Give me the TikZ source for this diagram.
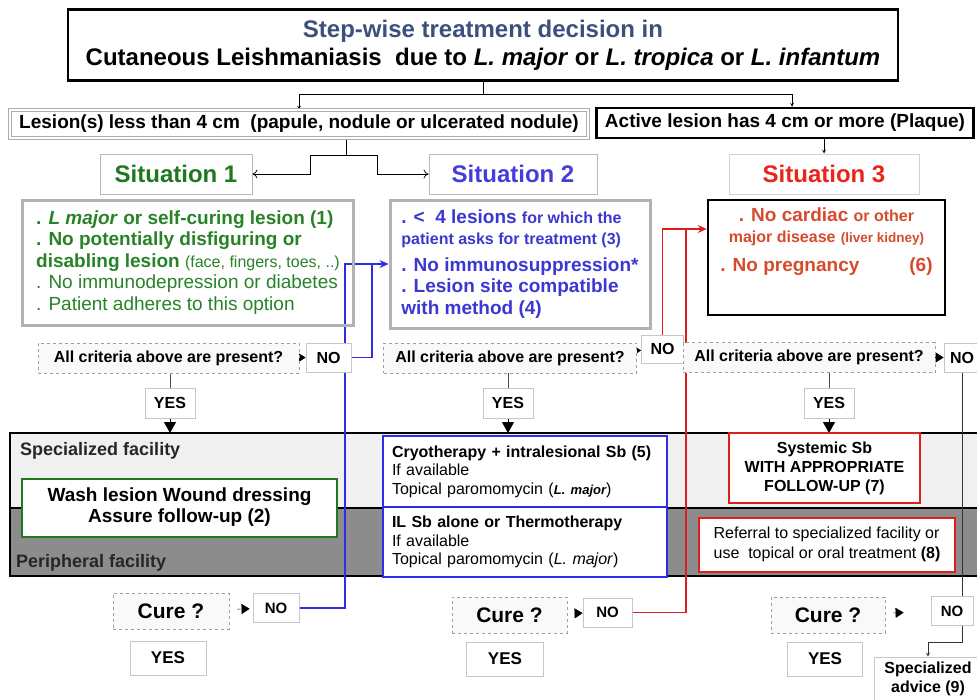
\documentclass[tikz,border=0pt]{standalone}
\usepackage{fontspec}
\setmainfont{Liberation Sans}
\usetikzlibrary{arrows.meta,backgrounds}

\definecolor{titleblue}{RGB}{60,80,125}
\definecolor{sitgreen}{RGB}{30,120,30}
\definecolor{critgreen}{RGB}{40,130,40}
\definecolor{sitblue}{RGB}{70,60,220}
\definecolor{critblue}{RGB}{60,55,210}
\definecolor{sitred}{RGB}{235,35,25}
\definecolor{critred}{RGB}{215,75,45}
\definecolor{lineblue}{RGB}{45,45,230}
\definecolor{linered}{RGB}{220,30,30}

\newcommand{\fsz}[2]{\fontsize{#1}{#2}\selectfont}

\begin{document}
\begin{tikzpicture}[x=1pt, y=-1pt, >=stealth,
    every node/.style={inner sep=0pt},
    sitbox/.style={draw=gray!55, line width=1pt, fill=white, font=\bfseries\fsz{24}{26}},
    critbox/.style={draw=gray!60, line width=3pt},
    askbox/.style={draw=gray!75, dashed, line width=0.8pt, fill=gray!5, font=\bfseries\fsz{16}{18}},
    nobox/.style={draw=gray!45, line width=0.8pt, fill=white, font=\bfseries\fsz{16}{18}},
    treatbox/.style={line width=2pt, fill=white, font=\fsz{16}{18.5}},
    blueline/.style={draw=lineblue, line width=1.3pt},
    redline/.style={draw=linered, line width=1.3pt},
    triarrow/.style={-{Triangle[length=8pt,width=10pt]}},
  ]
  \useasboundingbox (0,0) rectangle (977,699);
  \clip (0,0) rectangle (977,699);

  % titre et deux formes de lesion
  \node[draw, line width=2.5pt, fill=white, align=center, minimum width=830, minimum height=71,
        font=\bfseries\fsz{24}{28}] (title) at (483,45)
    {\textcolor{titleblue}{Step-wise treatment decision in}\\
     Cutaneous Leishmaniasis\ \ due to \textit{L. major} or \textit{L. tropica} or \textit{L. infantum}};
  \node[draw=gray!65, double=white, double distance=1.5pt, line width=0.8pt, fill=white,
        minimum width=578, minimum height=28, font=\bfseries\fsz{19}{21}] (lesS) at (299,124)
    {Lesion(s) less than 4 cm\ \ (papule, nodule or ulcerated nodule)};
  \node[draw, line width=2.5pt, fill=white, minimum width=377, minimum height=30,
        font=\bfseries\fsz{19}{21}] (lesL) at (785,123) {Active lesion has 4 cm or more (Plaque)};

  % situations
  \node[sitbox, minimum width=152, minimum height=40, text=sitgreen] (sit1) at (176,174) {Situation 1};
  \node[sitbox, minimum width=168, minimum height=40, text=sitblue] (sit2) at (513,174) {Situation 2};
  \node[sitbox, draw=gray!35, minimum width=190, minimum height=40, text=sitred] (sit3) at (824,174) {Situation 3};

  % criteres
  \node[critbox, minimum width=331, minimum height=125, align=left, text=critgreen,
        font=\fsz{19}{21.5}] (crit1) at (188,262.5)
    {\textbf{. \textit{L major} or self-curing lesion (1)}\\
     \textbf{. No potentially disfiguring or}\\
     \textbf{disabling lesion} {\fsz{16}{21.5}(face, fingers, toes, ..)}\\
     . No immunodepression or diabetes\\
     . Patient adheres to this option};
  \node[critbox, fill=white, minimum width=260, minimum height=128, align=left, text=critblue,
        font=\bfseries\fsz{19}{21.5}] (crit2) at (520,264)
    {. <\ \ 4 lesions {\fsz{16}{21.5}for which the}\\
     {\fsz{16}{21.5}patient asks for treatment (3)}\\[5pt]
     . No immunosuppression*\\
     . Lesion site compatible\\
     with method (4)};
  \node[draw, line width=2.5pt, fill=white, minimum width=237, minimum height=115] (crit3) at (826.5,257.5) {};
  \node[anchor=north, align=center, text=critred, font=\bfseries\fsz{19}{21}] (crit3txt)
    at ([yshift=-9pt]crit3.north)
    {. No cardiac {\fsz{16}{21}or other}\\
     {\fsz{16}{21}major disease} {\fsz{13.5}{21}(liver kidney)}\\[8pt]
     . No pregnancy\hspace{50pt}(6)};

  % questions
  \node[askbox, minimum width=261, minimum height=30] (ask1) at (168.5,358) {All criteria above are present?};
  \node[nobox, minimum width=45, minimum height=29] (no1) at (328.5,357.5) {NO};
  \node[askbox, minimum width=253, minimum height=30] (ask2) at (510,358) {All criteria above are present?};
  \node[nobox, minimum width=42, minimum height=28] (no2) at (662.5,349) {NO};
  \node[askbox, minimum width=252, minimum height=30] (ask3) at (809,357.5) {All criteria above are present?};
  \node[nobox, minimum width=36, minimum height=29] (no3) at (962,357.5) {NO};
  \node[nobox, minimum width=50, minimum height=30] (yes1) at (170,403) {YES};
  \node[nobox, minimum width=50, minimum height=30] (yes2) at (508,403) {YES};
  \node[nobox, minimum width=50, minimum height=30] (yes3) at (829,403) {YES};

  % traitements
  \node[anchor=base west, font=\bfseries\fsz{18}{20}, text=black!85] (speclab) at (20,455) {Specialized facility};
  \node[anchor=base west, font=\bfseries\fsz{18}{20}, text=black!85] (perilab) at (16,567) {Peripheral facility};
  \node[treatbox, draw=sitgreen, minimum width=315, minimum height=58, align=center,
        font=\bfseries\fsz{19}{21}] (wash) at (179.5,507.5)
    {Wash lesion Wound dressing\\Assure follow-up (2)};
  \node[treatbox, draw=lineblue, minimum width=284, minimum height=71, text width=266pt, align=left] (cryo) at (525,471.5)
    {\textbf{Cryotherapy + intralesional Sb (5)}\\
     If available\\
     Topical paromomycin ({\fsz{13}{18.5}\bfseries\itshape L. major})};
  \node[treatbox, draw=lineblue, minimum width=284, minimum height=70, text width=266pt, align=left] (ilsb) at (525,542)
    {\textbf{IL Sb alone or Thermotherapy}\\
     If available\\
     Topical paromomycin (\textit{L. major})};
  \node[treatbox, draw=linered, minimum width=191, minimum height=70, align=center,
        font=\bfseries\fsz{16}{19}] (syst) at (824.5,468)
    {Systemic Sb\\WITH APPROPRIATE\\FOLLOW-UP (7)};
  \node[treatbox, draw=linered, minimum width=256, minimum height=54, align=left,
        font=\fsz{16}{20}] (refr) at (827,544.5)
    {Referral to specialized facility or\\use\ \ topical or oral treatment \textbf{(8)}};

  % guerison
  \node[askbox, minimum width=116, minimum height=36, font=\bfseries\fsz{21}{23}] (cure1) at (171,611) {Cure ?};
  \node[nobox, minimum width=46, minimum height=29, font=\bfseries\fsz{15}{17}] (cno1) at (276,608) {NO};
  \node[nobox, minimum width=76, minimum height=34, font=\bfseries\fsz{17}{19}] (cyes1) at (168,658) {YES};
  \node[askbox, minimum width=115, minimum height=36, font=\bfseries\fsz{21}{23}] (cure2) at (509.5,615) {Cure ?};
  \node[nobox, minimum width=49, minimum height=29, font=\bfseries\fsz{15}{17}] (cno2) at (607.5,612.5) {NO};
  \node[nobox, minimum width=77, minimum height=34, font=\bfseries\fsz{17}{19}] (cyes2) at (505,659) {YES};
  \node[askbox, minimum width=114, minimum height=36, font=\bfseries\fsz{21}{23}] (cure3) at (828,615) {Cure ?};
  \node[nobox, minimum width=42, minimum height=29, font=\bfseries\fsz{15}{17}] (cno3) at (952,611) {NO};
  \node[nobox, minimum width=75, minimum height=34, font=\bfseries\fsz{17}{19}] (cyes3) at (825,659) {YES};
  \node[nobox, minimum width=108, minimum height=44, align=center, font=\bfseries\fsz{16}{19}] (spadv) at (928,679)
    {Specialized\\advice (9)};

  \begin{scope}[on background layer]
    % bandes
    \filldraw[fill=gray!12, line width=2pt] (10,433) rectangle (990,508);
    \filldraw[fill=black!45, line width=2pt] (10,508) rectangle (990,576);
    \coordinate (spectop) at (0,433);
    % liaisons
    \draw[-stealth, line width=0.7pt] (title.south) -- ++(0,13) -| (lesS.north);
    \draw[-stealth, line width=0.7pt] (title.south) -- ++(0,13) -| ([xshift=7pt]lesL.north);
    \coordinate (split) at (346,155);
    \draw[line width=0.7pt] (split |- lesS.south) -- (split);
    \draw[-{To[length=5pt,width=9pt]}, line width=0.7pt] (split) -| ([xshift=58pt]sit1.east) -- (sit1.east);
    \draw[-{To[length=5pt,width=9pt]}, line width=0.7pt] (split) -| ([xshift=-51pt]sit2.west) -- (sit2.west);
    \draw[-stealth, line width=0.7pt] (lesL.south -| sit3.north) -- (sit3.north);
    \foreach \i in {1,2,3} {
      \draw[triarrow] (ask\i) -- (no\i);
      \draw[line width=0.8pt, black!70] (yes\i |- ask\i.south) -- (yes\i.north);
      \draw[-{Triangle[length=11pt,width=12pt]}, line width=0.8pt] (yes\i.south) -- (yes\i |- spectop);
    }
    \draw[triarrow, shorten <=8pt, shorten >=3pt] (cure1) -- (cno1);
    \draw[triarrow, shorten <=8pt] (cure2) -- (cno2);
    \draw[triarrow, shorten <=8pt, shorten >=27pt] (cure3) -- (cno3);
    % retour bleu
    \coordinate (bturn) at (345,264);
    \coordinate (bjoin) at (372,264);
    \draw[blueline, -{Stealth[length=9pt,width=8pt]}] (cno1.east) -| (bturn) -- (crit2.west |- bturn);
    \draw[blueline] (no1.east) -| (bjoin);
    % retour rouge
    \coordinate (rturn) at (686,229);
    \draw[redline, -{Stealth[length=9pt,width=8pt]}] (cno2.east) -| (rturn) -- (crit3.west |- rturn);
    \draw[redline] (no2.north) |- (rturn);
    % avis specialise
    \coordinate (kturn) at (962,642);
    \draw[-stealth, line width=0.8pt, black!80] (no3.south) -- (kturn) -| (spadv.north);
  \end{scope}
\end{tikzpicture}
\end{document}
